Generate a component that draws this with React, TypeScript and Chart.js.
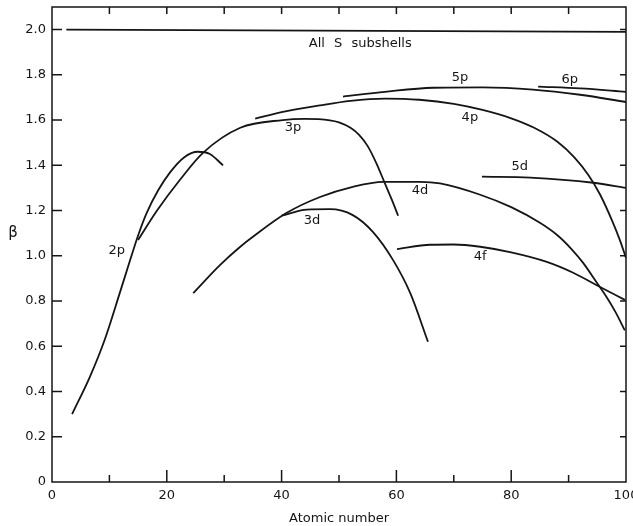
import React, { useEffect, useRef } from "react";
import { Chart, registerables } from "chart.js";

Chart.register(...registerables);

const INK = "#151515";
const FONT = '"DejaVu Sans", sans-serif';

// Axis ticks
const xTickValues = [0, 20, 40, 60, 80, 100];
const xMinorTicks = [10, 20, 30, 40, 50, 60, 70, 80, 90];
const yTickValues = [0, 0.2, 0.4, 0.6, 0.8, 1.0, 1.2, 1.4, 1.6, 1.8, 2.0];

// Curves (x = atomic number, y = beta)
const allSX = [2.5, 100];
const allSY = [2.0, 1.99];

const p2X = [3.5, 6.6, 9.2, 11.8, 13.6, 15, 16.5, 18.5, 20.6, 23, 25.4, 27.5, 29.8];
const p2Y = [0.3, 0.465, 0.63, 0.835, 0.98, 1.09, 1.19, 1.29, 1.37, 1.435, 1.46, 1.45, 1.4];

const p3X = [15, 18.3, 22.3, 26.3, 32.8, 40.2, 44, 48.4, 50, 52, 53.5, 55, 56.5, 58, 59.2, 60.3];
const p3Y = [1.07, 1.2, 1.336, 1.455, 1.566, 1.6, 1.605, 1.599, 1.59, 1.566, 1.535, 1.485, 1.41, 1.32, 1.248, 1.177];

const p4X = [35.4, 40, 46.7, 52, 58, 64, 70, 75, 80, 84, 88, 91, 93.5, 95.5, 97.5, 99, 100];
const p4Y = [1.606, 1.635, 1.665, 1.685, 1.695, 1.69, 1.672, 1.645, 1.608, 1.566, 1.505, 1.435, 1.355, 1.27, 1.16, 1.065, 0.99];

const p5X = [50.7, 58, 66.4, 75, 83.8, 92, 100];
const p5Y = [1.704, 1.725, 1.743, 1.745, 1.735, 1.712, 1.68];

const p6X = [84.7, 92, 100];
const p6Y = [1.748, 1.74, 1.725];

const d3X = [40, 44.4, 48.4, 52.4, 55.9, 59.4, 62.4, 65.5];
const d3Y = [1.178, 1.204, 1.206, 1.18, 1.106, 0.982, 0.836, 0.62];

const d4X = [24.6, 29.3, 32.8, 35, 40.9, 46.7, 52.4, 57.7, 64.1, 67.6, 74.6, 80, 85, 88, 90.5, 92.5, 94.9, 96.5, 98.2, 99.8];
const d4Y = [0.835, 0.96, 1.04, 1.084, 1.19, 1.26, 1.305, 1.327, 1.327, 1.32, 1.27, 1.215, 1.146, 1.092, 1.03, 0.97, 0.882, 0.822, 0.75, 0.67];

const d5X = [74.9, 83.3, 94.3, 100];
const d5Y = [1.35, 1.346, 1.323, 1.3];

const f4X = [60.1, 65.9, 70, 74.6, 80, 86.2, 90.8, 94.9, 99.8];
const f4Y = [1.03, 1.049, 1.05, 1.04, 1.015, 0.973, 0.925, 0.87, 0.805];

// Curve labels
const labelTexts = ["All S subshells", "5p", "6p", "4p", "3p", "5d", "4d", "3d", "4f", "2p"];
const labelX = [53.7, 71.1, 90.2, 72.8, 42, 81.5, 64.1, 45.3, 74.6, 11.3];
const labelY = [1.94, 1.788, 1.78, 1.61, 1.566, 1.394, 1.288, 1.155, 0.996, 1.022];

const yAxisSymbol = "β";
const yAxisSymbolValue = 1.1;
const xAxisTitle = "Atomic number";

const series = [
  [allSX, allSY, "All S"],
  [p2X, p2Y, "2p"],
  [p3X, p3Y, "3p"],
  [p4X, p4Y, "4p"],
  [p5X, p5Y, "5p"],
  [p6X, p6Y, "6p"],
  [d3X, d3Y, "3d"],
  [d4X, d4Y, "4d"],
  [d5X, d5Y, "5d"],
  [f4X, f4Y, "4f"],
] as const;

const framePlugin = {
  id: "frameAndLabels",
  afterDatasetsDraw(chart: any) {
    const { ctx, chartArea: a, scales } = chart;
    const x = scales.x;
    const y = scales.y;
    ctx.save();
    ctx.strokeStyle = INK;
    ctx.lineWidth = 1.5;
    ctx.strokeRect(a.left, a.top, a.right - a.left, a.bottom - a.top);

    ctx.beginPath();
    xMinorTicks.forEach((v) => {
      const px = x.getPixelForValue(v);
      const len = v % 20 === 0 ? 12 : 7;
      ctx.moveTo(px, a.bottom);
      ctx.lineTo(px, a.bottom - len);
      ctx.moveTo(px, a.top);
      ctx.lineTo(px, a.top + 7);
    });
    yTickValues.forEach((v) => {
      if (v === 0) return;
      const py = y.getPixelForValue(v);
      ctx.moveTo(a.left, py);
      ctx.lineTo(a.left + 10, py);
      ctx.moveTo(a.right, py);
      ctx.lineTo(a.right - 6, py);
    });
    ctx.stroke();

    ctx.fillStyle = INK;
    ctx.font = `13px ${FONT}`;
    ctx.textAlign = "center";
    ctx.textBaseline = "middle";
    labelTexts.forEach((t, i) => {
      (ctx as any).wordSpacing = t.includes(" ") ? "5px" : "0px";
      ctx.fillText(t, x.getPixelForValue(labelX[i]), y.getPixelForValue(labelY[i]));
    });
    (ctx as any).wordSpacing = "0px";

    ctx.font = `15px ${FONT}`;
    ctx.fillText(yAxisSymbol, 13, y.getPixelForValue(yAxisSymbolValue));
    ctx.restore();
  },
};

export default function App() {
  const ref = useRef<HTMLCanvasElement | null>(null);

  useEffect(() => {
    if (!ref.current) return;
    const datasets = series.map(([xs, ys, name]) => ({
      label: name,
      data: xs.map((xv, i) => ({ x: xv, y: ys[i] })),
      showLine: true,
      borderColor: INK,
      backgroundColor: INK,
      borderWidth: 1.8,
      pointRadius: 0,
      cubicInterpolationMode: "monotone" as const,
      fill: false,
    }));

    const chart = new Chart(ref.current, {
      type: "scatter",
      data: { datasets },
      plugins: [framePlugin],
      options: {
        animation: false,
        responsive: true,
        maintainAspectRatio: false,
        layout: { padding: { left: 0, right: 7, top: 7, bottom: 0 } },
        plugins: {
          legend: { display: false },
          tooltip: { enabled: false },
        },
        scales: {
          x: {
            type: "linear",
            min: 0,
            max: 100,
            grid: { display: false, drawTicks: false },
            border: { display: false },
            afterBuildTicks: (s: any) => {
              s.ticks = xTickValues.map((v) => ({ value: v }));
            },
            afterFit: (s: any) => {
              s.height = 44;
              s.paddingLeft = 0;
              s.paddingRight = 0;
            },
            ticks: {
              color: INK,
              font: { family: FONT, size: 13 },
              padding: 6,
              maxRotation: 0,
              autoSkip: false,
              callback: (v: any) => String(v),
            },
            title: {
              display: true,
              text: xAxisTitle,
              color: INK,
              font: { family: FONT, size: 13 },
              padding: { top: 0, bottom: 0 },
            },
          },
          y: {
            type: "linear",
            min: 0,
            max: 2.1,
            grid: { display: false, drawTicks: false },
            border: { display: false },
            afterBuildTicks: (s: any) => {
              s.ticks = yTickValues.map((v) => ({ value: v }));
            },
            afterFit: (s: any) => {
              s.width = 52;
              s.paddingTop = 0;
              s.paddingBottom = 0;
            },
            ticks: {
              color: INK,
              font: { family: FONT, size: 13 },
              padding: 6,
              callback: (v: any) => (Number(v) === 0 ? "0" : Number(v).toFixed(1)),
            },
          },
        },
      },
    });
    return () => chart.destroy();
  }, []);

  return (
    <div style={{ position: "fixed", left: 0, top: 0, width: 633, height: 526, background: "#fff" }}>
      <canvas ref={ref} />
    </div>
  );
}
